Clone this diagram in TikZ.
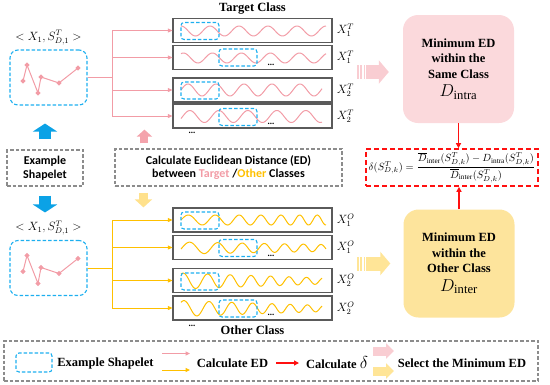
\documentclass[tikz,border=0pt]{standalone}
\usepackage{amsmath}
\usepackage{fontspec}
\setmainfont{Liberation Serif}
\newfontfamily\calibrifont{Carlito}
\usetikzlibrary{arrows.meta, positioning}
\definecolor{cPink}{HTML}{F29CA6}
\definecolor{cPinkFill}{HTML}{FBD9DC}
\definecolor{cPinkSoft}{HTML}{F9CDD2}
\definecolor{cPinkArrow}{HTML}{F4A3AC}
\definecolor{cYellow}{HTML}{FFC000}
\definecolor{cYellowFill}{HTML}{FDE49C}
\definecolor{cYellowSoft}{HTML}{FFE597}
\definecolor{cYellowArrow}{HTML}{FFE18C}
\definecolor{cBlue}{HTML}{1DAFEF}
\definecolor{cBlueArrow}{HTML}{0BA2E6}
\definecolor{cGray}{HTML}{8C8C8C}
\definecolor{cFrame}{HTML}{5A5A5A}
\definecolor{cRed}{HTML}{FF1010}
% style, y centre, amplitude, period, phase, end x, chirp
\newcommand{\wave}[7]{%
  \draw[#1] plot[domain=181:#6, samples=120, smooth]
    (\x, {#2 - (#3)*sin(#5 + (\x-181)*(360/#4)*(1+#7*(\x-181)/145))});}
\tikzset{
  font=\fontsize{12}{14}\selectfont,
  serieswin/.style={draw=cFrame, line width=1.2pt, minimum width=159pt,
    minimum height=24pt, inner sep=0pt},
  shpwin/.style={draw=cBlue, dash pattern=on 3.5pt off 2pt, line width=1.1pt,
    rounded corners=3pt, minimum width=38pt, minimum height=17pt, inner sep=0pt},
  shpsource/.style={shpwin, minimum width=77pt, minimum height=55pt,
    rounded corners=8pt},
  notebox/.style={draw=cGray, dash pattern=on 3.5pt off 2pt, line width=1.1pt,
    align=center, font=\calibrifont\bfseries\fontsize{12}{13.5}\selectfont,
    inner sep=0pt},
  minbox/.style={rounded corners=15pt, minimum width=111pt, minimum height=108pt,
    align=center, font=\bfseries\fontsize{12.5}{15.5}\selectfont},
  formbox/.style={draw=cRed, dash pattern=on 5pt off 3pt, line width=1.6pt,
    minimum width=172pt, minimum height=37pt, inner sep=0pt,
    font=\fontsize{10}{12}\selectfont},
  pinkline/.style={draw=cPink, line width=1pt},
  yellowline/.style={draw=cYellow, line width=1pt},
  pinkflow/.style={pinkline, -{Triangle[length=4.5pt, width=4pt]}},
  yellowflow/.style={yellowline, -{Triangle[length=4.5pt, width=4pt]}},
  redflow/.style={draw=cRed, line width=1.5pt, -{Triangle[length=5pt, width=5pt]}},
  bluefat/.style={draw=cBlueArrow, line width=12pt, -{Triangle[length=8pt, width=24pt]}},
  pinkfat/.style={draw=cPinkArrow, line width=8pt, -{Triangle[length=7pt, width=15pt]}},
  yellowfat/.style={draw=cYellowArrow, line width=9pt, -{Triangle[length=8pt, width=17pt]}},
  pinkwide/.style={draw=cPinkSoft, line width=14pt, -{Triangle[length=10pt, width=23pt]}},
  yellowwide/.style={draw=cYellowSoft, line width=14pt, -{Triangle[length=10pt, width=23pt]}},
  serieslabel/.style={inner sep=0pt, font=\fontsize{11.5}{13}\selectfont},
  dots/.style={inner sep=0pt, font=\bfseries\fontsize{9}{9}\selectfont},
  classtitle/.style={font=\bfseries\fontsize{12.5}{14}\selectfont, inner sep=1pt},
  legendtext/.style={font=\bfseries\fontsize{12.5}{14}\selectfont, inner sep=0pt},
}

\begin{document}
\begin{tikzpicture}[x=1pt, y=-1pt]
  \useasboundingbox (0,0) rectangle (550,384);

  % ----------------------------------------------------------------
  % Example shapelet, copied for both classes
  % ----------------------------------------------------------------
  \node[shpsource] (shpT) at (48.5,77.5) {};
  \node[above=1pt of shpT] (shpTlab) {$<X_1, S^T_{D,1}>$};
  \draw[pinkline, shift={(shpT.center)}]
    plot[mark=*, mark size=1.8pt, mark options={fill=cPink}]
    coordinates {(-25.5,3.5) (-21.5,-12.5) (-10.5,15.5) (-7.5,-0.5) (10.5,5.5) (29.5,-9.5)};

  \node[notebox, minimum width=76pt, minimum height=36pt] (exshp) at (45,168)
    {Example\\Shapelet};

  \node[shpsource] (shpO) at (48.5,268) {};
  \node[above=1pt of shpO] (shpOlab) {$<X_1, S^T_{D,1}>$};
  \draw[pinkline, shift={(shpO.center)}]
    plot[mark=*, mark size=1.8pt, mark options={fill=cPink}]
    coordinates {(-25.5,3.5) (-21.5,-12.5) (-10.5,15.5) (-7.5,-0.5) (10.5,5.5) (29.5,-9.5)};

  \draw[bluefat, shorten <=10pt, shorten >=18pt] (exshp.north) -- (exshp.north |- shpT.south);
  \draw[bluefat, shorten <=9pt, shorten >=5pt] (exshp.south) -- (exshp.south |- shpOlab.north);

  % ----------------------------------------------------------------
  % Target class series
  % ----------------------------------------------------------------
  \node[serieswin] (tA) at (252.5,30.5) {};
  \node[serieswin] (tB) at (252.5,57.5) {};
  \node[serieswin] (tC) at (252.5,90) {};
  \node[serieswin] (tD) at (252.5,116) {};
  \node[classtitle, above=2pt of tA] (titleT) {Target Class};

  \wave{pinkline}{31}{5}{29}{90}{326}{0}
  \wave{pinkline}{58}{5}{29}{60}{326}{0}
  \wave{pinkline}{90}{6}{28}{0}{322}{0}
  \wave{pinkline}{116.5}{6}{29}{-20}{322}{0}

  \node[shpwin] (wTA) at (200,31) {};
  \node[shpwin] (wTB) at (238,57.5) {};
  \node[shpwin] (wTC) at (200,90.5) {};
  \node[shpwin] (wTD) at (238,117) {};

  \node[dots] (dTB) at (271,65) {...};
  \node[dots] (dTD) at (271,124) {...};
  \node[dots] (dT) at (192,133) {...};

  \node[serieslabel, right=4pt of tA] (labTA) {$X^T_1$};
  \node[serieslabel, right=4pt of tB] (labTB) {$X^T_1$};
  \node[serieslabel, right=4pt of tC] (labTC) {$X^T_2$};
  \node[serieslabel, right=4pt of tD] (labTD) {$X^T_2$};

  \draw[pinkflow] (shpT.east) -- ++(25,0) |- (tA.west);
  \draw[pinkflow] (shpT.east) -- ++(25,0) |- (tB.west);
  \draw[pinkflow] (shpT.east) -- ++(25,0) |- (tC.west);
  \draw[pinkflow] (shpT.east) -- ++(25,0) |- (tD.west);

  % ----------------------------------------------------------------
  % Other class series
  % ----------------------------------------------------------------
  \node[serieswin] (oA) at (252.5,220) {};
  \node[serieswin] (oB) at (252.5,247.5) {};
  \node[serieswin] (oC) at (252.5,280.5) {};
  \node[serieswin] (oD) at (252.5,308) {};
  \node[classtitle, below=4pt of oD] (titleO) {Other Class};

  \wave{yellowline}{220}{5}{30}{0}{326}{0.4}
  \wave{yellowline}{248}{6-2.5*(\x-181)/145}{32}{-10}{326}{0.45}
  \wave{yellowline}{281}{8-5*(\x-181)/145}{26}{60}{322}{0.3}
  \wave{yellowline}{308.5}{8-5*(\x-181)/145}{27}{50}{322}{0.35}

  \node[shpwin] (wOA) at (200,220.5) {};
  \node[shpwin] (wOB) at (238,248) {};
  \node[shpwin] (wOC) at (200,281.5) {};
  \node[shpwin] (wOD) at (238,308.5) {};

  \node[dots] (dOB) at (271,256) {...};
  \node[dots] (dOD) at (271,315) {...};
  \node[dots] (dO) at (192,326) {...};

  \node[serieslabel, right=4pt of oA] (labOA) {$X^O_1$};
  \node[serieslabel, right=4pt of oB] (labOB) {$X^O_1$};
  \node[serieslabel, right=4pt of oC] (labOC) {$X^O_2$};
  \node[serieslabel, right=4pt of oD] (labOD) {$X^O_2$};

  \draw[yellowflow] (shpO.east) -- ++(25,0) |- (oA.west);
  \draw[yellowflow] (shpO.east) -- ++(25,0) |- (oB.west);
  \draw[yellowflow] (shpO.east) -- ++(25,0) |- (oC.west);
  \draw[yellowflow] (shpO.east) -- ++(25,0) |- (oD.west);

  % ----------------------------------------------------------------
  % Distance note between the two classes
  % ----------------------------------------------------------------
  \node[notebox, minimum width=227pt, minimum height=37pt] (calc) at (228.5,167.5)
    {Calculate Euclidean Distance (ED)\\between {\color{cPink}Target} /{\color{cYellow}Other} Classes};
  \coordinate (pinkFoot) at ([xshift=30pt]calc.north west);
  \coordinate (yelFoot) at ([xshift=29pt]calc.south west);
  \draw[pinkfat, shorten <=5pt, shorten >=1pt] (pinkFoot) -- (pinkFoot |- tD.south);
  \draw[yellowfat, shorten <=6pt] (yelFoot) -- (yelFoot |- oA.north);

  % ----------------------------------------------------------------
  % Minimum distances and the score
  % ----------------------------------------------------------------
  \node[minbox, fill=cPinkFill] (minT) at (458.5,69)
    {Minimum ED\\within the\\Same Class\\[3pt]{\fontsize{18}{18}\selectfont$D_{\mathrm{intra}}$}};
  \node[minbox, fill=cYellowFill] (minO) at (459,263.5)
    {Minimum ED\\within the\\Other Class\\[3pt]{\fontsize{18}{18}\selectfont$D_{\mathrm{inter}}$}};

  \coordinate (selTfoot) at ([xshift=-37pt, yshift=-3pt]minT.west);
  \coordinate (selTtip) at ([xshift=-14pt, yshift=-3pt]minT.west);
  \draw[pinkwide] (selTfoot) -- (selTtip);
  \fill[cPinkSoft] (357,65) rectangle (358.5,79);
  \fill[cPinkSoft] (360,65) rectangle (362,79);
  \fill[cPinkSoft] (363.5,65) rectangle (365,79);
  \coordinate (selOfoot) at ([xshift=-37pt]minO.west);
  \coordinate (selOtip) at ([xshift=-13pt]minO.west);
  \draw[yellowwide] (selOfoot) -- (selOtip);
  \fill[cYellowSoft] (357,256.5) rectangle (358.5,270.5);
  \fill[cYellowSoft] (360,256.5) rectangle (362,270.5);
  \fill[cYellowSoft] (363.5,256.5) rectangle (365,270.5);

  \node[formbox] (delta) at (452,167.5)
    {\scalebox{1.04}{$\delta(S^T_{D,k}) = \dfrac{\overline{D}_{\mathrm{inter}}(S^T_{D,k}) - D_{\mathrm{intra}}(S^T_{D,k})}{\overline{D}_{\mathrm{inter}}(S^T_{D,k})}$}};

  \draw[redflow] (minT.south) -- (minT.south |- delta.north);
  \draw[redflow] (minO.north) -- (minO.north |- delta.south);

  % ----------------------------------------------------------------
  % Legend
  % ----------------------------------------------------------------
  \node[notebox, minimum width=534pt, minimum height=40pt] (legend) at (271,361) {};
  \node[shpwin, minimum width=36pt, minimum height=19pt] (lgShp) at (34,362.5) {};
  \node[legendtext] (lgShpTxt) at (105.5,363) {Example Shapelet};

  \coordinate (lgPinkA) at (162,353.5);
  \coordinate (lgPinkB) at (190,353.5);
  \coordinate (lgYelA) at (162,370);
  \coordinate (lgYelB) at (190,370);
  \draw[pinkflow] (lgPinkA) -- (lgPinkB);
  \draw[yellowflow] (lgYelA) -- (lgYelB);
  \node[legendtext] (lgEdTxt) at (232.5,363) {Calculate ED};

  \coordinate (lgRedA) at (276,363);
  \coordinate (lgRedB) at (299,363);
  \draw[redflow] (lgRedA) -- (lgRedB);
  \node[legendtext] (lgDeltaTxt) at (337,363)
    {Calculate {\fontsize{16}{16}\selectfont$\delta$}};

  \coordinate (lgSelTA) at (373,351);
  \coordinate (lgSelTB) at (394,351);
  \coordinate (lgSelOA) at (373,371);
  \coordinate (lgSelOB) at (394,371);
  \draw[pinkwide, line width=9pt, -{Triangle[length=8pt, width=15pt]}] (lgSelTA) -- (lgSelTB);
  \draw[yellowwide, line width=9pt, -{Triangle[length=8pt, width=15pt]}] (lgSelOA) -- (lgSelOB);
  \node[legendtext] (lgMinTxt) at (462,363) {Select the Minimum ED};

\end{tikzpicture}
\end{document}
